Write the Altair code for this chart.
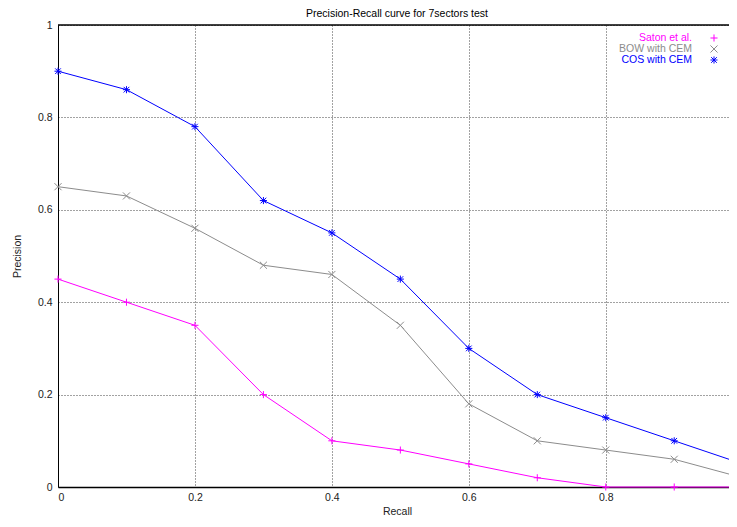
import altair as alt
import pandas as pd

recall = [0.0, 0.1, 0.2, 0.3, 0.4, 0.5, 0.6, 0.7, 0.8, 0.9, 1.0]
saton = [0.45, 0.40, 0.35, 0.20, 0.10, 0.08, 0.05, 0.02, 0.00, 0.00, 0.00]
bow = [0.65, 0.63, 0.56, 0.48, 0.46, 0.35, 0.18, 0.10, 0.08, 0.06, 0.02]
cos = [0.90, 0.86, 0.78, 0.62, 0.55, 0.45, 0.30, 0.20, 0.15, 0.10, 0.05]

chart_title = "Precision-Recall curve for 7sectors test"
series_names = ["Saton et al.", "BOW with CEM", "COS with CEM"]
series_values = [saton, bow, cos]
series_colors = ["#ff00ff", "#8c8c8c", "#0000ff"]
series_shapes = [
    "M-1,0L1,0M0,-1L0,1",
    "M-1,-1L1,1M-1,1L1,-1",
    "M-1,0L1,0M0,-1L0,1M-0.8,-0.8L0.8,0.8M-0.8,0.8L0.8,-0.8",
]
x_ticks = [0, 0.2, 0.4, 0.6, 0.8]
y_ticks = [0, 0.2, 0.4, 0.6, 0.8, 1]

rows = []
for name, vals in zip(series_names, series_values):
    for r, p in zip(recall, vals):
        rows.append({"series": name, "recall": r, "precision": p})
df = pd.DataFrame(rows)

FONT = "Liberation Sans"
FS = 10.5
W, H = 671, 462

x_scale = alt.Scale(domain=[0, 0.98], nice=False, zero=False)
y_scale = alt.Scale(domain=[0, 1], nice=False)
color_scale = alt.Scale(domain=series_names, range=series_colors)
shape_scale = alt.Scale(domain=series_names, range=series_shapes)

x_axis = alt.Axis(values=x_ticks, format="~g", title="Recall", grid=True,
                  ticks=False, labelPadding=5, domainWidth=1.5,
                  titleX=339, titleY=24, titleBaseline="middle", titleAlign="center")
y_axis = alt.Axis(values=y_ticks, format="~g", title="Precision", grid=True,
                  ticks=False, labelPadding=6, titlePadding=15)

base = alt.Chart(df).encode(
    x=alt.X("recall:Q", scale=x_scale, axis=x_axis),
    y=alt.Y("precision:Q", scale=y_scale, axis=y_axis),
    color=alt.Color("series:N", scale=color_scale, legend=None),
)
lines = base.mark_line(strokeWidth=1)
points = base.mark_point(size=50, filled=False, strokeWidth=1, opacity=1).encode(
    shape=alt.Shape("series:N", scale=shape_scale, legend=None)
)

top_border = alt.Chart(pd.DataFrame({"top": [1.0]})).mark_rule(
    color="black", strokeWidth=1.5
).encode(y=alt.Y("top:Q", scale=y_scale))

title_mark = alt.Chart(pd.DataFrame({"t": [chart_title]})).mark_text(
    align="center", baseline="middle", font=FONT, fontSize=FS, color="black"
).encode(x=alt.value(339), y=alt.value(-11), text="t:N")

legend_df = pd.DataFrame({"series": series_names})
legend_layers = []
for i, (name, color, shape) in enumerate(zip(series_names, series_colors, series_shapes)):
    yy = 13 + 11 * i
    legend_layers.append(
        alt.Chart(legend_df).transform_filter(alt.datum.series == name)
        .mark_text(align="right", baseline="middle", font=FONT, fontSize=FS, color=color)
        .encode(x=alt.value(634), y=alt.value(yy), text="series:N")
    )
    legend_layers.append(
        alt.Chart(legend_df).transform_filter(alt.datum.series == name)
        .mark_point(shape=shape, size=50, filled=False, strokeWidth=1, color=color, opacity=1)
        .encode(x=alt.value(656), y=alt.value(yy))
    )

chart = alt.layer(top_border, lines, points, title_mark, *legend_layers).properties(
    width=W,
    height=H,
    autosize=alt.AutoSizeParams(type="none"),
    padding={"left": 50, "top": 17, "right": 0, "bottom": 30},
).configure_view(stroke=None).configure_axis(
    domainColor="black", domainWidth=1,
    gridColor="#444444", gridDash=[1, 2], gridWidth=1, gridOpacity=1,
    labelFont=FONT, labelFontSize=FS, labelColor="#222222",
    titleFont=FONT, titleFontSize=FS, titleFontWeight="normal", titleColor="#222222",
)

chart.save("out.html", embed_options={"renderer": "svg", "actions": False})
